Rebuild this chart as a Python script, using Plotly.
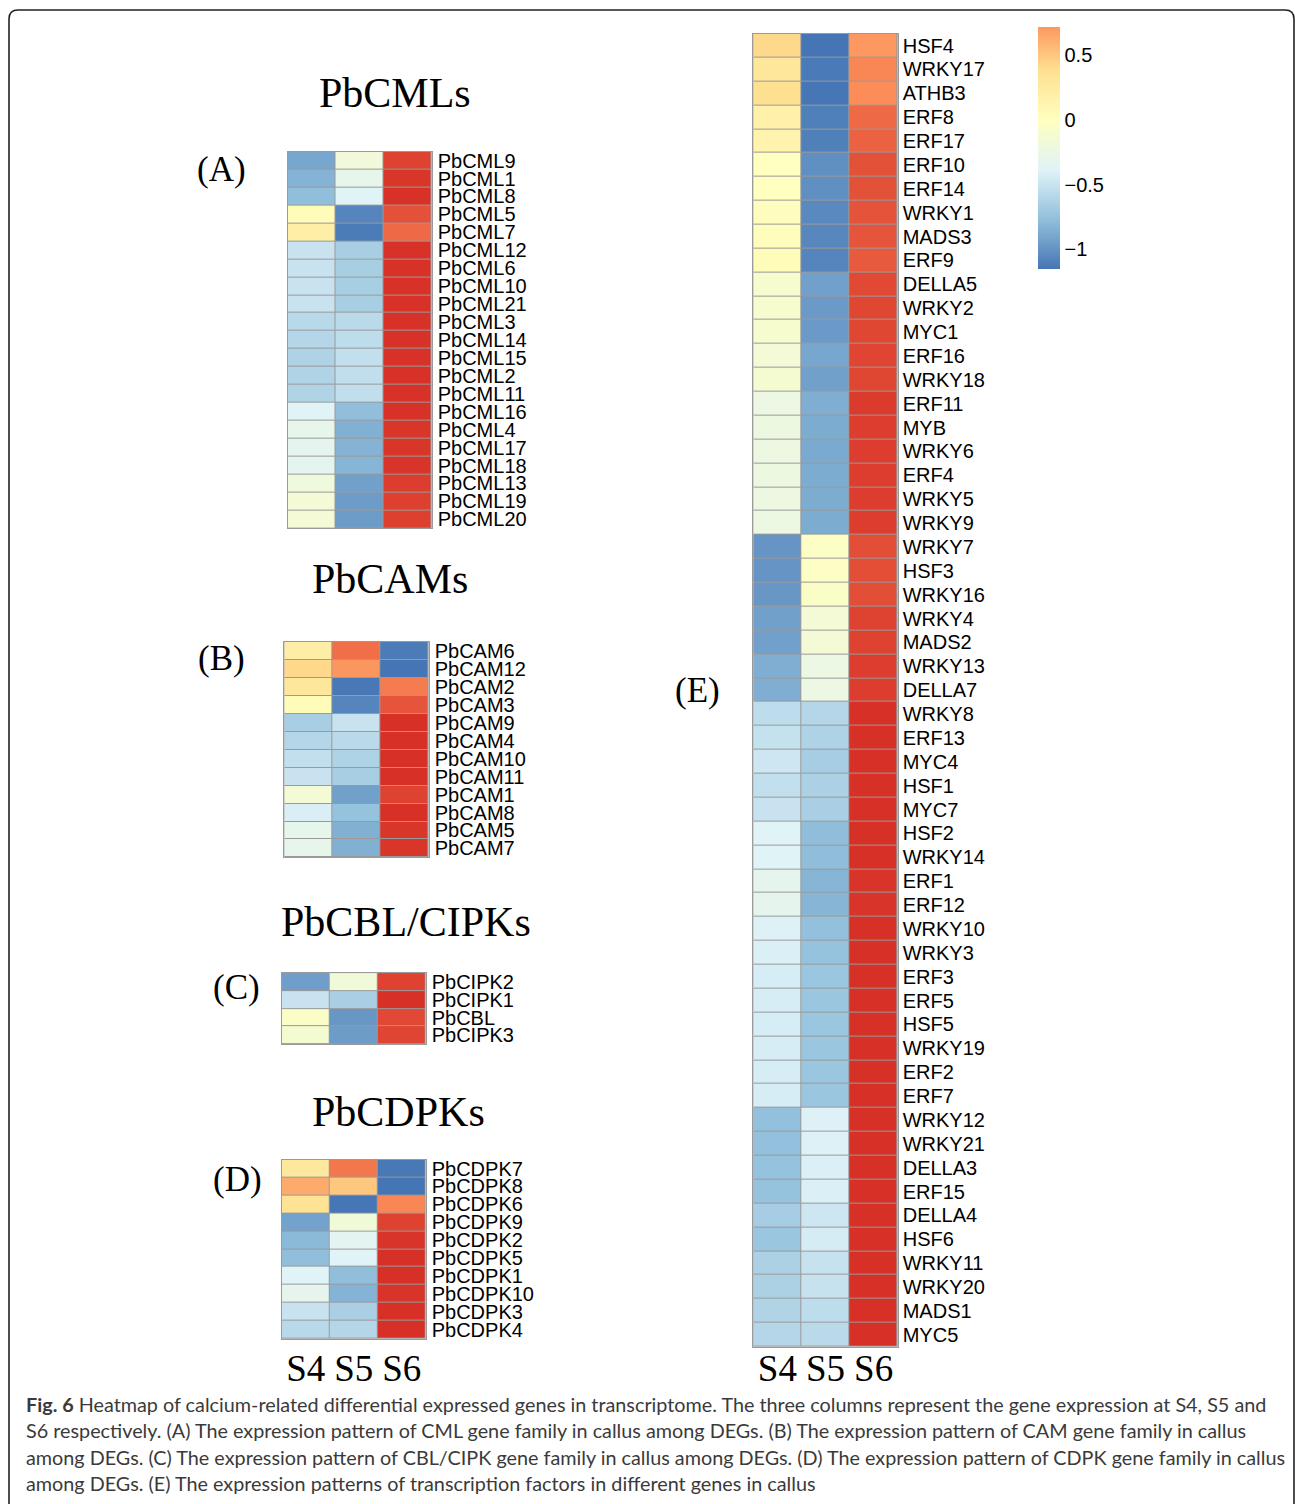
import plotly.graph_objects as go
from plotly.colors import sample_colorscale

# ---------------- data (row-scaled expression, S4/S5/S6) ----------------
stages = ["S4", "S5", "S6"]

cml_genes = ["PbCML9", "PbCML1", "PbCML8", "PbCML5", "PbCML7", "PbCML12", "PbCML6",
             "PbCML10", "PbCML21", "PbCML3", "PbCML14", "PbCML15", "PbCML2", "PbCML11",
             "PbCML16", "PbCML4", "PbCML17", "PbCML18", "PbCML13", "PbCML19", "PbCML20"]
cml_values = [
    [-0.90, -0.18, 1.08], [-0.83, -0.30, 1.13], [-0.77, -0.38, 1.15], [0.05, -1.07, 1.02],
    [0.20, -1.12, 0.92], [-0.50, -0.66, 1.15], [-0.50, -0.66, 1.15], [-0.50, -0.66, 1.15],
    [-0.50, -0.66, 1.15], [-0.58, -0.57, 1.15], [-0.60, -0.55, 1.15], [-0.63, -0.53, 1.15],
    [-0.62, -0.54, 1.15], [-0.62, -0.54, 1.15], [-0.38, -0.77, 1.15], [-0.30, -0.85, 1.13],
    [-0.32, -0.83, 1.13], [-0.33, -0.82, 1.14], [-0.20, -0.93, 1.10], [-0.15, -0.95, 1.09],
    [-0.15, -0.95, 1.09]]

cam_genes = ["PbCAM6", "PbCAM12", "PbCAM2", "PbCAM3", "PbCAM9", "PbCAM4", "PbCAM10",
             "PbCAM11", "PbCAM1", "PbCAM8", "PbCAM5", "PbCAM7"]
cam_values = [
    [0.22, 0.90, -1.12], [0.42, 0.73, -1.155], [0.30, -1.14, 0.84], [0.05, -1.07, 1.00],
    [-0.66, -0.50, 1.155], [-0.60, -0.57, 1.155], [-0.53, -0.63, 1.155], [-0.50, -0.66, 1.155],
    [-0.15, -0.93, 1.08], [-0.42, -0.75, 1.155], [-0.30, -0.85, 1.13], [-0.30, -0.85, 1.13]]

cipk_genes = ["PbCIPK2", "PbCIPK1", "PbCBL", "PbCIPK3"]
cipk_values = [[-0.94, -0.17, 1.08], [-0.50, -0.65, 1.155], [-0.05, -0.98, 1.05],
               [-0.12, -0.95, 1.07]]

cdpk_genes = ["PbCDPK7", "PbCDPK8", "PbCDPK6", "PbCDPK9", "PbCDPK2", "PbCDPK5", "PbCDPK1",
              "PbCDPK10", "PbCDPK3", "PbCDPK4"]
cdpk_values = [
    [0.28, 0.86, -1.14], [0.63, 0.50, -1.155], [0.35, -1.15, 0.80], [-0.92, -0.17, 1.08],
    [-0.80, -0.34, 1.14], [-0.77, -0.38, 1.155], [-0.38, -0.77, 1.155], [-0.32, -0.83, 1.14],
    [-0.50, -0.65, 1.155], [-0.58, -0.60, 1.155]]

tf_genes = ["HSF4", "WRKY17", "ATHB3", "ERF8", "ERF17", "ERF10", "ERF14", "WRKY1", "MADS3",
            "ERF9", "DELLA5", "WRKY2", "MYC1", "ERF16", "WRKY18", "ERF11", "MYB", "WRKY6",
            "ERF4", "WRKY5", "WRKY9", "WRKY7", "HSF3", "WRKY16", "WRKY4", "MADS2", "WRKY13",
            "DELLA7", "WRKY8", "ERF13", "MYC4", "HSF1", "MYC7", "HSF2", "WRKY14", "ERF1",
            "ERF12", "WRKY10", "WRKY3", "ERF3", "ERF5", "HSF5", "WRKY19", "ERF2", "ERF7",
            "WRKY12", "WRKY21", "DELLA3", "ERF15", "DELLA4", "HSF6", "WRKY11", "WRKY20",
            "MADS1", "MYC5"]
tf_values = [
    [0.42, -1.155, 0.72], [0.30, -1.13, 0.80], [0.38, -1.15, 0.77], [0.17, -1.10, 0.92],
    [0.15, -1.10, 0.95], [0.00, -1.02, 1.02], [0.00, -1.02, 1.02], [0.02, -1.05, 1.01],
    [0.03, -1.06, 1.00], [0.05, -1.07, 0.98], [-0.10, -0.93, 1.05], [-0.10, -0.96, 1.06],
    [-0.10, -0.96, 1.06], [-0.15, -0.90, 1.07], [-0.12, -0.93, 1.06], [-0.24, -0.86, 1.11],
    [-0.22, -0.87, 1.10], [-0.22, -0.88, 1.10], [-0.22, -0.87, 1.10], [-0.22, -0.87, 1.10],
    [-0.23, -0.87, 1.10], [-0.99, -0.04, 1.03], [-0.99, -0.04, 1.03], [-0.98, -0.05, 1.03],
    [-0.93, -0.15, 1.08], [-0.93, -0.15, 1.08], [-0.86, -0.24, 1.10], [-0.86, -0.24, 1.10],
    [-0.55, -0.60, 1.155], [-0.52, -0.63, 1.155], [-0.48, -0.67, 1.155], [-0.53, -0.64, 1.155],
    [-0.50, -0.65, 1.155], [-0.38, -0.78, 1.155], [-0.38, -0.78, 1.155], [-0.32, -0.82, 1.14],
    [-0.32, -0.82, 1.14], [-0.40, -0.76, 1.155], [-0.41, -0.75, 1.155], [-0.43, -0.72, 1.155],
    [-0.43, -0.72, 1.155], [-0.43, -0.72, 1.155], [-0.43, -0.72, 1.155], [-0.43, -0.72, 1.155],
    [-0.43, -0.72, 1.155], [-0.76, -0.40, 1.155], [-0.76, -0.40, 1.155], [-0.75, -0.41, 1.155],
    [-0.75, -0.41, 1.155], [-0.67, -0.48, 1.155], [-0.72, -0.44, 1.155], [-0.64, -0.51, 1.155],
    [-0.64, -0.51, 1.155], [-0.62, -0.55, 1.155], [-0.60, -0.57, 1.155]]

legend_ticks = [-1, -0.5, 0, 0.5]
legend_ticktext = ["\u22121", "\u22120.5", "0", "0.5"]

# ---------------- styling ----------------
W, H = 1295, 1504
ZMIN, ZMAX = -1.155, 1.155
LEG_MIN, LEG_MAX = -1.151, 0.718
palette = ["#4575B4", "#91BFDB", "#E0F3F8", "#FFFFBF", "#FEE090", "#FC8D59", "#D73027"]
colorscale = [[i / (len(palette) - 1), c] for i, c in enumerate(palette)]
GRID = "#9a9a9a"
SANS = "Liberation Sans, Arial, sans-serif"
SERIF = "Liberation Serif, Times New Roman, serif"


def px_x(p):
    return p / W


def px_y(p):
    return 1 - p / H


# panel boxes in pixels: left, right, top, bottom; stage-label standoff; gene-label standoff
panels = [
    ("A", cml_genes, cml_values, (287.5, 431.7, 150.0, 527.7), False, 0, 1),
    ("B", cam_genes, cam_values, (284.3, 428.7, 641.7, 857.7), False, 0, 1),
    ("C", cipk_genes, cipk_values, (281.7, 425.7, 973.7, 1045.0), False, 0, 1),
    ("D", cdpk_genes, cdpk_values, (281.7, 425.7, 1160.7, 1340.3), True, -3, 1),
    ("E", tf_genes, tf_values, (753.3, 897.7, 31.7, 1348.3), True, -11, 0),
]

fig = go.Figure()
layout_axes = {}
for i, (tag, genes, vals, box, show_x, x_off, y_off) in enumerate(panels, start=1):
    xa = "x" if i == 1 else f"x{i}"
    ya = "y" if i == 1 else f"y{i}"
    fig.add_trace(go.Heatmap(
        z=vals, x=stages, y=genes, xaxis=xa, yaxis=ya,
        colorscale=colorscale, zmin=ZMIN, zmax=ZMAX, showscale=False,
        xgap=1, ygap=1, hoverinfo="x+y+z",
    ))
    l, r, t, b = box
    xname = "xaxis" if i == 1 else f"xaxis{i}"
    yname = "yaxis" if i == 1 else f"yaxis{i}"
    layout_axes[xname] = dict(
        domain=[px_x(l), px_x(r)], anchor=ya, showgrid=False, zeroline=False,
        showline=True, mirror=True, linecolor=GRID, linewidth=1, ticks="",
        showticklabels=show_x, side="bottom",
        tickfont=dict(family=SERIF, size=37, color="black"),
        ticklabelstandoff=x_off,
        tickmode="array", tickvals=stages, ticktext=stages,
    )
    layout_axes[yname] = dict(
        domain=[px_y(b), px_y(t)], anchor=xa, showgrid=False, zeroline=False,
        showline=True, mirror=True, linecolor=GRID, linewidth=1, ticks="",
        side="right", autorange="reversed",
        tickmode="array", tickvals=genes, ticktext=genes,
        tickfont=dict(family=SANS, size=20, color="black"),
        ticklabelstandoff=y_off,
    )

# colour key for the row-scaled values
n_leg = 40
leg_pts = [(LEG_MIN + (LEG_MAX - LEG_MIN) * k / (n_leg - 1) - ZMIN) / (ZMAX - ZMIN)
           for k in range(n_leg)]
leg_cols = sample_colorscale(colorscale, leg_pts)
leg_scale = [[k / (n_leg - 1), c] for k, c in enumerate(leg_cols)]
fig.add_trace(go.Scatter(
    x=[None], y=[None], xaxis="x5", yaxis="y5", mode="markers", showlegend=False,
    hoverinfo="skip",
    marker=dict(color=[0], cmin=LEG_MIN, cmax=LEG_MAX, colorscale=leg_scale, showscale=True,
                colorbar=dict(
                    x=px_x(1038.3), xanchor="left", xpad=0,
                    y=px_y(25), yanchor="top", ypad=0,
                    len=(267.3 - 25) / H, lenmode="fraction",
                    thickness=22, thicknessmode="pixels", outlinewidth=0,
                    tickmode="array", tickvals=legend_ticks, ticktext=legend_ticktext,
                    ticks="", tickfont=dict(family=SANS, size=20, color="black"),
                )),
))

# panel titles and letters
texts = [
    ("PbCMLs", 395, 91, 42), ("(A)", 221, 168, 35),
    ("PbCAMs", 390, 579, 42), ("(B)", 221, 658, 35),
    ("PbCBL/CIPKs", 406, 922, 42), ("(C)", 236, 988, 35),
    ("PbCDPKs", 398, 1113, 42), ("(D)", 237, 1181, 35),
    ("(E)", 697, 690, 35),
]
annotations = []
for txt, cx, cy, sz in texts:
    annotations.append(dict(
        text=txt, x=px_x(cx), y=px_y(cy), xref="paper", yref="paper",
        xanchor="center", yanchor="middle", showarrow=False,
        font=dict(family=SERIF, size=sz, color="black"),
    ))

caption_lines = [
    "<b>Fig. 6</b> Heatmap of calcium-related differential expressed genes in transcriptome. "
    "The three columns represent the gene expression at S4, S5 and",
    "S6 respectively. (A) The expression pattern of CML gene family in callus among DEGs. "
    "(B) The expression pattern of CAM gene family in callus",
    "among DEGs. (C) The expression pattern of CBL/CIPK gene family in callus among DEGs. "
    "(D) The expression pattern of CDPK gene family in callus",
    "among DEGs. (E) The expression patterns of transcription factors in different genes in callus",
]
for k, line in enumerate(caption_lines):
    annotations.append(dict(
        text=line, x=px_x(24), y=px_y(1406 + 26.3 * k), xref="paper", yref="paper",
        xanchor="left", yanchor="middle", showarrow=False,
        font=dict(family="Lato, Open Sans, sans-serif", size=19.8, color="#3a3a3a"),
    ))

# rounded frame around the whole figure
fl, ft, fr, fb, rad = px_x(9), px_y(8), px_x(1294), px_y(1530), 9
rx, ry = rad / W, rad / H
frame_path = (f"M {fl + rx} {ft} L {fr - rx} {ft} Q {fr} {ft} {fr} {ft - ry} "
              f"L {fr} {fb + ry} Q {fr} {fb} {fr - rx} {fb} L {fl + rx} {fb} "
              f"Q {fl} {fb} {fl} {fb + ry} L {fl} {ft - ry} Q {fl} {ft} {fl + rx} {ft} Z")

fig.update_layout(
    width=W, height=H, margin=dict(l=0, r=0, t=0, b=0),
    paper_bgcolor="white", plot_bgcolor=GRID,
    annotations=annotations,
    shapes=[dict(type="path", path=frame_path, xref="paper", yref="paper",
                 line=dict(color="#222222", width=1.6), layer="above")],
    showlegend=False,
    **layout_axes,
)

fig.write_html("out.html")
